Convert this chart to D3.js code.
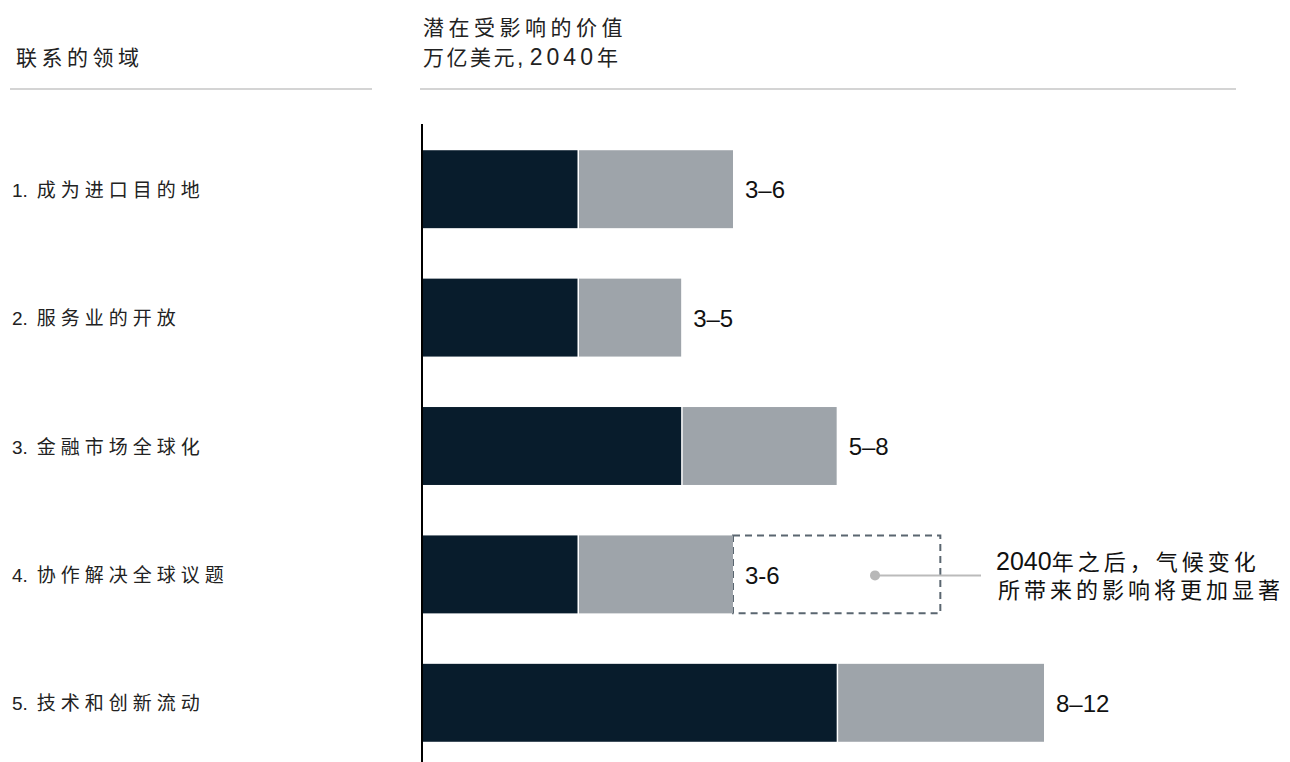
<!DOCTYPE html>
<meta charset="utf-8">
<style>
body { margin: 0; background: #fff; }
text { font-family: "Liberation Sans", Arial, "Noto Sans CJK SC", sans-serif; }
.rule { stroke: #d4d4d4; stroke-width: 2; }
</style>
<svg width="1290" height="762"></svg>
<script src="https://d3js.org/d3.v7.min.js"></script>
<script>

var categories = ["1. 成为进口目的地", "2. 服务业的开放", "3. 金融市场全球化", "4. 协作解决全球议题", "5. 技术和创新流动"];
var lowValues = [3, 3, 5, 3, 8];
var highValues = [6, 5, 8, 6, 12];
var valueLabels = ["3–6", "3–5", "5–8", "3-6", "8–12"];
var futureEnd = [null, null, null, 10, null];

var svg = d3.select("svg");

var x = d3.scaleLinear()
    .domain([0, 12])
    .range([422, 1044]);

var y = d3.scaleBand()
    .domain(categories)
    .range([125, 767])
    .paddingInner(0.393)
    .paddingOuter(0.1965);

// headers
svg.append("text")
    .attr("x", 16).attr("y", 65)
    .attr("font-size", 21).attr("letter-spacing", 4.5).attr("fill", "#222")
    .text("联系的领域");
svg.append("text")
    .attr("x", 423).attr("y", 35)
    .attr("font-size", 21).attr("letter-spacing", 4.5).attr("fill", "#222")
    .text("潜在受影响的价值");
var unit = svg.append("text")
    .attr("x", 423).attr("y", 65)
    .attr("font-size", 21).attr("fill", "#222")
    .style("white-space", "pre");
unit.append("tspan").attr("letter-spacing", 2.5).text("万亿美元");
unit.append("tspan").attr("font-size", 23).text(", ");
unit.append("tspan").attr("font-size", 23).attr("letter-spacing", 4).text("2040");
unit.append("tspan").text("年");

svg.append("line").attr("class", "rule")
    .attr("x1", 10).attr("x2", 372).attr("y1", 89).attr("y2", 89);
svg.append("line").attr("class", "rule")
    .attr("x1", 420).attr("x2", 1236).attr("y1", 89).attr("y2", 89);

var rows = svg.append("g").selectAll("g")
  .data(categories)
  .enter().append("g");

// category labels: number in Latin, name spaced out
var labels = rows.append("text")
    .attr("x", 12)
    .attr("y", function(d) { return y(d) + y.bandwidth() / 2; })
    .attr("dy", "0.4em")
    .attr("font-size", 19)
    .attr("fill", "#222");
labels.append("tspan")
    .text(function(d) { return d.split(" ")[0]; });
labels.append("tspan")
    .attr("dx", 9)
    .attr("letter-spacing", 5)
    .text(function(d) { return d.split(" ")[1]; });

// dashed future box
rows.filter(function(d, i) { return futureEnd[i] != null; })
  .append("rect")
    .attr("x", function(d) { var i = categories.indexOf(d); return x(highValues[i]); })
    .attr("y", function(d) { return y(d); })
    .attr("width", function(d) { var i = categories.indexOf(d); return x(futureEnd[i]) - x(highValues[i]); })
    .attr("height", y.bandwidth())
    .attr("fill", "none")
    .attr("stroke", "#5a6670")
    .attr("stroke-width", 2)
    .attr("stroke-dasharray", "7,5");

// low bars
rows.append("rect")
    .attr("x", x(0))
    .attr("y", function(d) { return y(d); })
    .attr("width", function(d, i) { return x(lowValues[i]) - x(0); })
    .attr("height", y.bandwidth())
    .attr("fill", "#081c2c");

// high bars
rows.append("rect")
    .attr("x", function(d, i) { return x(lowValues[i]) + 1.5; })
    .attr("y", function(d) { return y(d); })
    .attr("width", function(d, i) { return x(highValues[i]) - x(lowValues[i]) - 1.5; })
    .attr("height", y.bandwidth())
    .attr("fill", "#9ea4aa");

// value labels
rows.append("text")
    .attr("x", function(d, i) { return x(highValues[i]) + 12; })
    .attr("y", function(d) { return y(d) + y.bandwidth() / 2; })
    .attr("dy", "0.38em")
    .attr("font-size", 24)
    .attr("fill", "#111")
    .text(function(d, i) { return valueLabels[i]; });

// annotation
var annotY = y(categories[3]) + y.bandwidth() / 2 + 1;
svg.append("line")
    .attr("x1", 875).attr("x2", 981)
    .attr("y1", annotY).attr("y2", annotY)
    .attr("stroke", "#bbbbbb").attr("stroke-width", 2);
svg.append("circle")
    .attr("cx", 875).attr("cy", annotY).attr("r", 5)
    .attr("fill", "#b8b8b8");

var note = svg.append("text")
    .attr("x", 996)
    .attr("y", 570)
    .attr("fill", "#111");
note.append("tspan").attr("font-size", 25).text("2040");
note.append("tspan").attr("font-size", 22).attr("letter-spacing", 4).text("年之后，气候变化");
svg.append("text")
    .attr("x", 998)
    .attr("y", 598)
    .attr("font-size", 22)
    .attr("letter-spacing", 4)
    .attr("fill", "#111")
    .text("所带来的影响将更加显著");

// axis line
svg.append("line")
    .attr("x1", x(0)).attr("x2", x(0))
    .attr("y1", 124).attr("y2", 762)
    .attr("stroke", "#000").attr("stroke-width", 2);

</script>
